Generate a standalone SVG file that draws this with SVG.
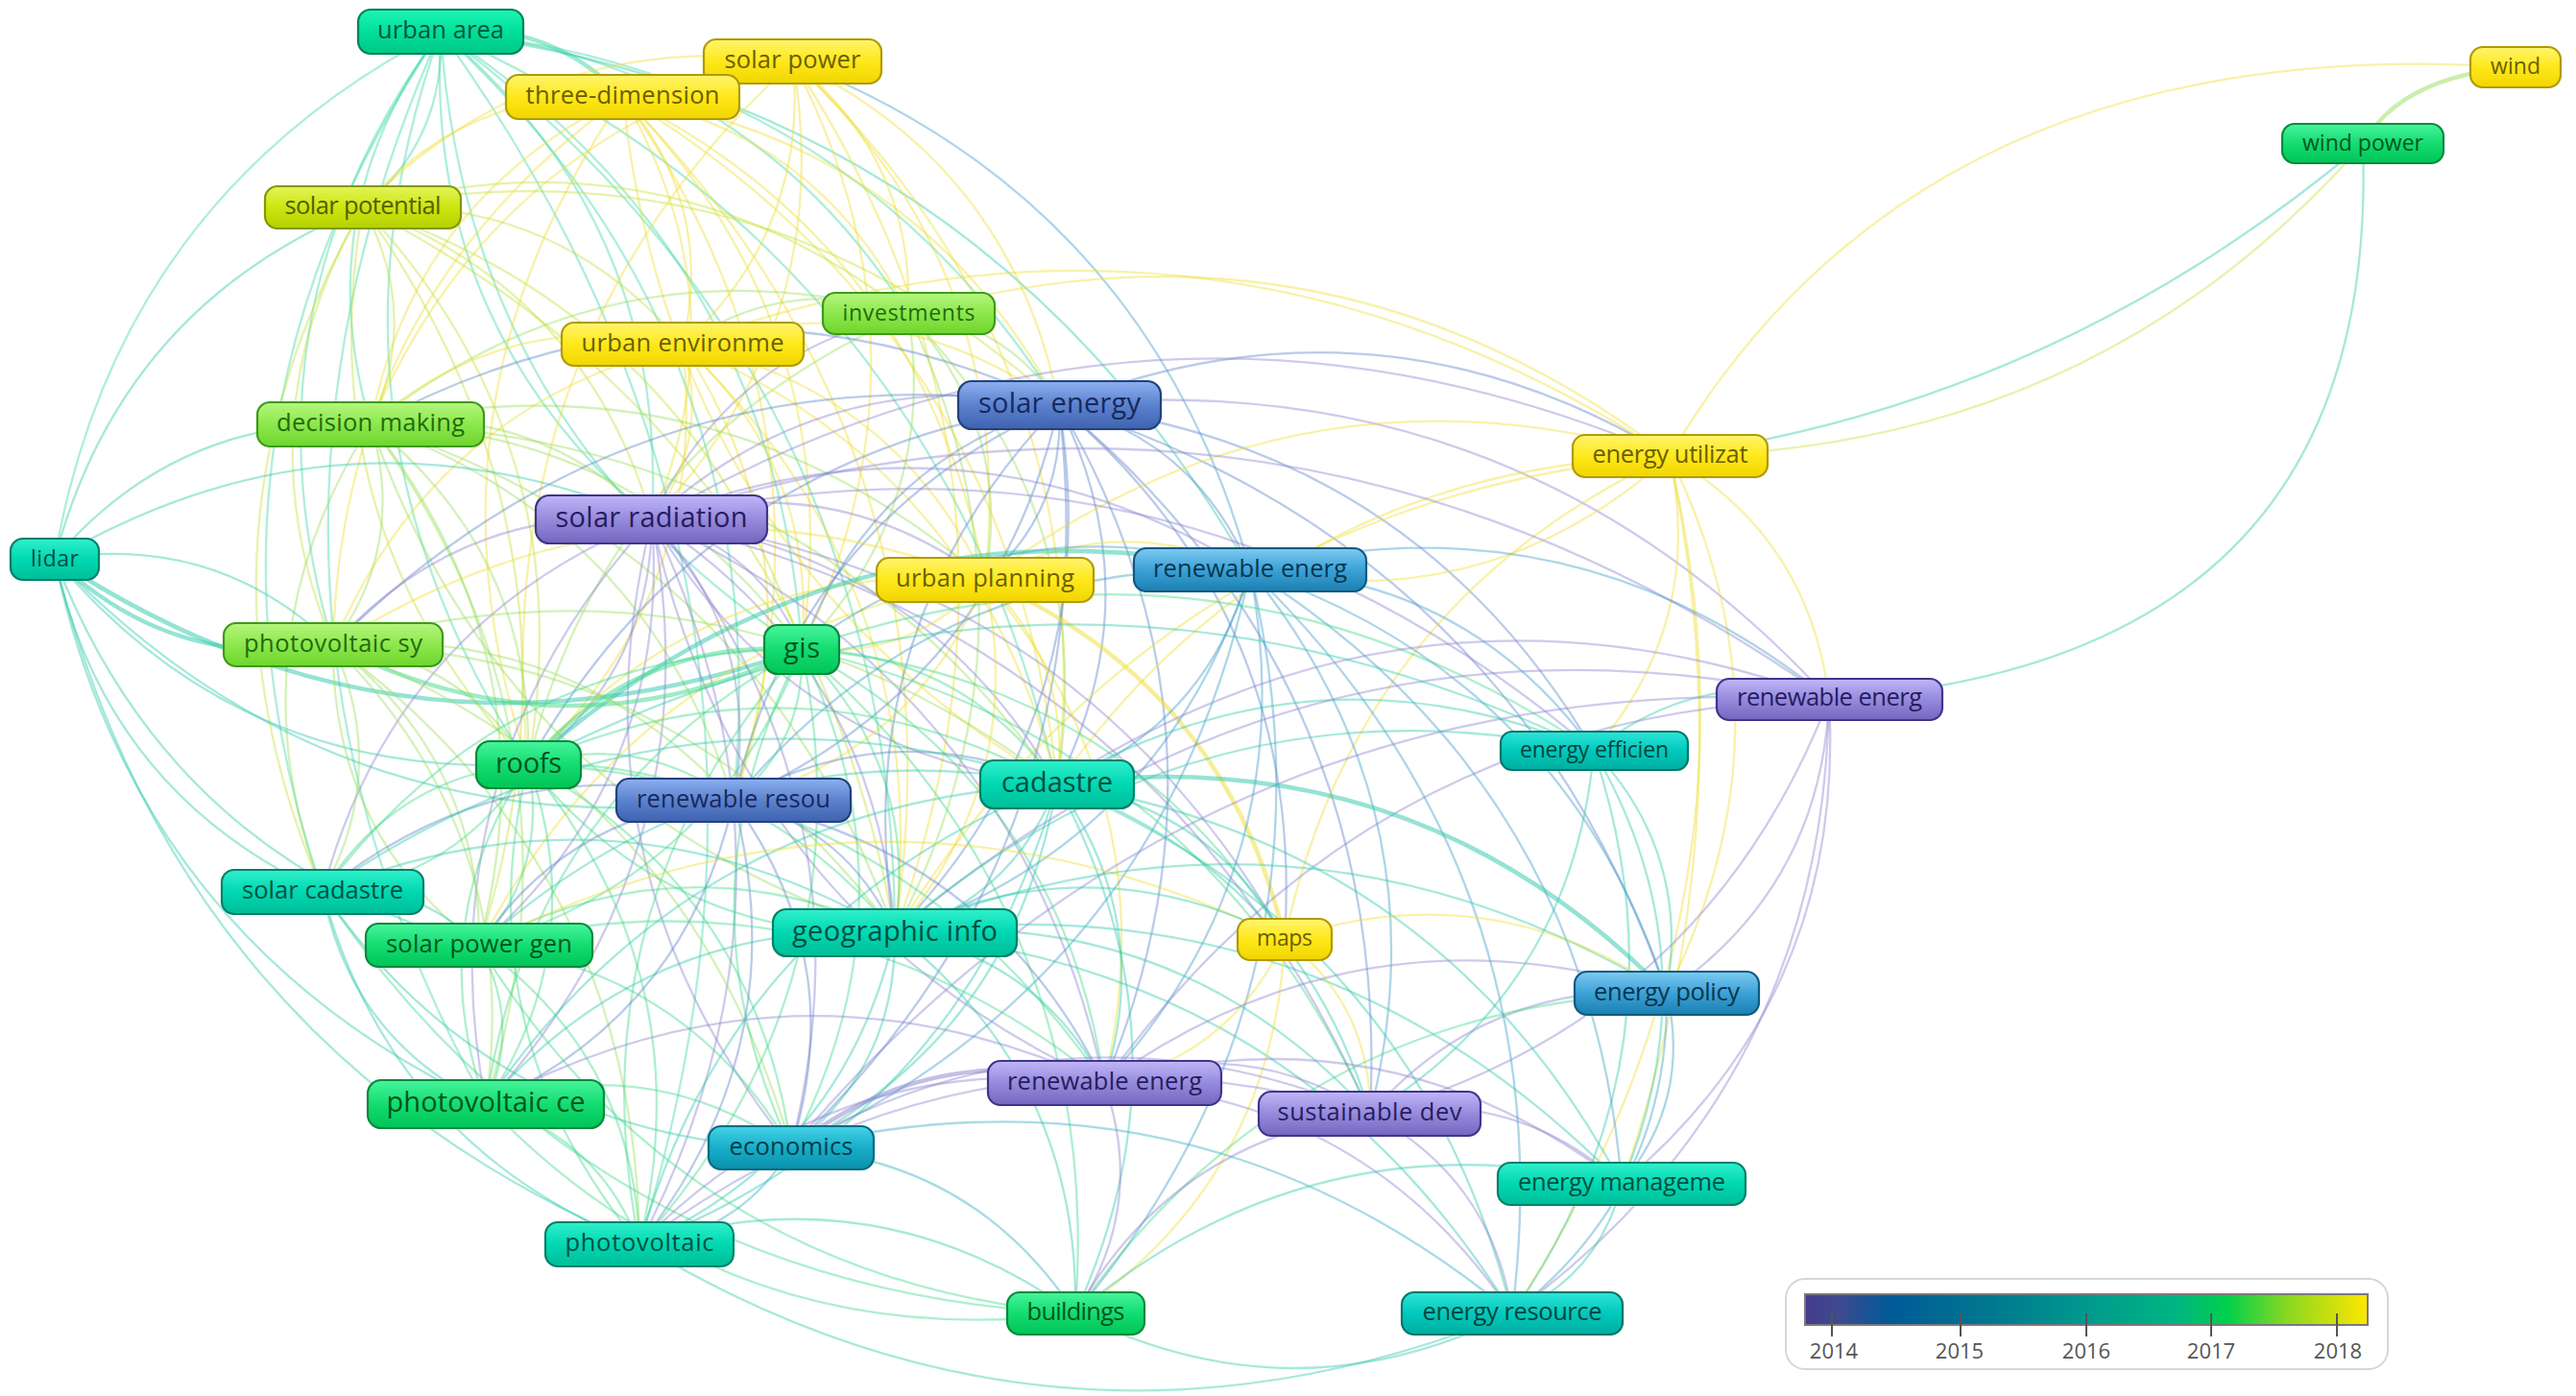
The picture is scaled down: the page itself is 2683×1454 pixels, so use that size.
<svg xmlns="http://www.w3.org/2000/svg" width="2683" height="1454" viewBox="0 0 2683 1454">
<defs>
<linearGradient id="gua" x1="0" y1="0" x2="0" y2="1"><stop offset="0" stop-color="#1ef5b4"/><stop offset=".5" stop-color="#00e09a"/><stop offset="1" stop-color="#00c786"/></linearGradient>
<linearGradient id="gyel" x1="0" y1="0" x2="0" y2="1"><stop offset="0" stop-color="#fff46e"/><stop offset=".5" stop-color="#ffe81a"/><stop offset="1" stop-color="#f0d500"/></linearGradient>
<linearGradient id="gyg" x1="0" y1="0" x2="0" y2="1"><stop offset="0" stop-color="#e2f45a"/><stop offset=".5" stop-color="#cbe610"/><stop offset="1" stop-color="#b4d000"/></linearGradient>
<linearGradient id="glg" x1="0" y1="0" x2="0" y2="1"><stop offset="0" stop-color="#b5f67e"/><stop offset=".5" stop-color="#8ce84c"/><stop offset="1" stop-color="#6fd42e"/></linearGradient>
<linearGradient id="ggrn" x1="0" y1="0" x2="0" y2="1"><stop offset="0" stop-color="#46f59c"/><stop offset=".5" stop-color="#14dc70"/><stop offset="1" stop-color="#00c458"/></linearGradient>
<linearGradient id="gtea" x1="0" y1="0" x2="0" y2="1"><stop offset="0" stop-color="#30f0cc"/><stop offset=".5" stop-color="#00d8b2"/><stop offset="1" stop-color="#00bd98"/></linearGradient>
<linearGradient id="gtea2" x1="0" y1="0" x2="0" y2="1"><stop offset="0" stop-color="#30e4d8"/><stop offset=".5" stop-color="#00c9bc"/><stop offset="1" stop-color="#00ad9e"/></linearGradient>
<linearGradient id="gblu" x1="0" y1="0" x2="0" y2="1"><stop offset="0" stop-color="#8cb0f0"/><stop offset=".5" stop-color="#5c82ce"/><stop offset="1" stop-color="#3e62b0"/></linearGradient>
<linearGradient id="glbl" x1="0" y1="0" x2="0" y2="1"><stop offset="0" stop-color="#7ecaf2"/><stop offset=".5" stop-color="#3ca2d6"/><stop offset="1" stop-color="#1a7eb0"/></linearGradient>
<linearGradient id="gcya" x1="0" y1="0" x2="0" y2="1"><stop offset="0" stop-color="#44d2e8"/><stop offset=".5" stop-color="#18aec8"/><stop offset="1" stop-color="#0a90ac"/></linearGradient>
<linearGradient id="gpur" x1="0" y1="0" x2="0" y2="1"><stop offset="0" stop-color="#c0b6f8"/><stop offset=".5" stop-color="#968adc"/><stop offset="1" stop-color="#7466c0"/></linearGradient>
<linearGradient id="gleg" x1="0" y1="0" x2="1" y2="0">
<stop offset="0" stop-color="#453c8c"/><stop offset=".06" stop-color="#3f4a90"/><stop offset=".15" stop-color="#005a98"/><stop offset=".33" stop-color="#00788f"/><stop offset=".5" stop-color="#00998e"/><stop offset=".66" stop-color="#00b582"/><stop offset=".75" stop-color="#00d04c"/><stop offset=".86" stop-color="#8cd820"/><stop offset="1" stop-color="#ffe600"/>
</linearGradient>
</defs>
<style>
#connectors path{fill:none;stroke-width:2.3;stroke-opacity:.42;stroke-linecap:round}
#connectors .w{stroke-width:4.5;stroke-opacity:.5}
#connectors .y{stroke:#eede30}#connectors .yg{stroke:#c4e03a}#connectors .lg{stroke:#98de5a}#connectors .g{stroke:#3fd98a}#connectors .t2{stroke:#3ed6a6}#connectors .t{stroke:#2cc7aa}#connectors .b{stroke:#5a82c8}#connectors .lb{stroke:#3e9cc8}#connectors .p{stroke:#8a80d0}#connectors .c{stroke:#2eaac4}
.nd rect{stroke-width:2.2}
.nd text{font-family:"Open Sans","Liberation Sans",sans-serif;text-anchor:middle;stroke:none}
.f29 text{font-size:29px}.f25 text{font-size:25.5px}.f23 text{font-size:23px}
.ua rect{fill:url(#gua);stroke:#00835a}.ua text{fill:#00573a}
.yel rect{fill:url(#gyel);stroke:#b09a00}.yel text{fill:#6b5e00}
.ygn rect{fill:url(#gyg);stroke:#849800}.ygn text{fill:#536000}
.lg2 rect{fill:url(#glg);stroke:#3d9a1c}.lg2 text{fill:#236b0c}
.grn rect{fill:url(#ggrn);stroke:#0a8a3c}.grn text{fill:#00561f}
.tea rect{fill:url(#gtea);stroke:#00806a}.tea text{fill:#004f42}
.tea2 rect{fill:url(#gtea2);stroke:#00766c}.tea2 text{fill:#00443e}
.blu rect{fill:url(#gblu);stroke:#24407e}.blu text{fill:#16295c}
.lbl rect{fill:url(#glbl);stroke:#0d5a80}.lbl text{fill:#073650}
.cya rect{fill:url(#gcya);stroke:#066c80}.cya text{fill:#033e4a}
.pur rect{fill:url(#gpur);stroke:#40348a}.pur text{fill:#261c60}
#legend text{font-family:"Open Sans","Liberation Sans",sans-serif;font-size:22px;fill:#555;text-anchor:middle}
</style>
<rect width="2683" height="1454" fill="#ffffff"/>
<g id="connectors">
<path class="t2" d="M459 33Q464 145 378 216"/>
<path class="t2" d="M386 442Q320 219 459 33"/>
<path class="t2" d="M459 33Q696 232 679 541"/>
<path class="t2" d="M459 33Q808 261 835 676"/>
<path class="t2" d="M550 796Q314 437 459 33"/>
<path class="t2" d="M336 929Q173 450 459 33"/>
<path class="t2" d="M506 1150Q203 603 459 33"/>
<path class="t2" d="M459 33Q878 613 666 1296"/>
<path class="t2" d="M459 33Q930 384 932 972"/>
<path class="t2" d="M459 33Q878 67 1103 422"/>
<path class="t2" d="M459 33Q976 265 1101 817"/>
<path class="t2" d="M459 33Q812 357 764 834"/>
<path class="t2" d="M57 582Q121 207 459 33"/>
<path class="t2 w" d="M459 33Q571 20 649 101"/>
<path class="t2" d="M459 33Q776 58 946 327"/>
<path class="t2" d="M347 672Q243 325 459 33"/>
<path class="t" d="M459 33Q1021 103 1302 594"/>
<path class="t2" d="M835 676Q486 449 459 33"/>
<path class="t2" d="M679 541Q442 342 459 33"/>
<path class="y" d="M378 216Q564 28 826 64"/>
<path class="y" d="M826 64Q842 240 711 359"/>
<path class="y" d="M826 64Q872 339 679 541"/>
<path class="y" d="M826 64Q984 368 835 676"/>
<path class="y" d="M826 64Q952 166 946 327"/>
<path class="y" d="M826 64Q1054 174 1103 422"/>
<path class="y" d="M826 64Q1061 284 1026 604"/>
<path class="y" d="M386 442Q512 143 826 64"/>
<path class="y" d="M550 796Q505 361 826 64"/>
<path class="y" d="M826 64Q1106 492 932 972"/>
<path class="y" d="M826 64Q1152 372 1101 817"/>
<path class="lb" d="M826 64Q1197 210 1302 594"/>
<path class="y" d="M378 216Q485 91 649 101"/>
<path class="y" d="M649 101Q745 215 711 359"/>
<path class="y" d="M386 442Q432 206 649 101"/>
<path class="y" d="M649 101Q774 314 679 541"/>
<path class="y" d="M649 101Q886 342 835 676"/>
<path class="y" d="M649 101Q956 148 1103 422"/>
<path class="y" d="M649 101Q963 258 1026 604"/>
<path class="y" d="M649 101Q854 140 946 327"/>
<path class="y" d="M550 796Q426 424 649 101"/>
<path class="y" d="M347 672Q355 311 649 101"/>
<path class="y" d="M649 101Q1008 466 932 972"/>
<path class="y" d="M649 101Q1054 346 1101 817"/>
<path class="y" d="M649 101Q890 439 764 834"/>
<path class="y" d="M1101 817Q696 572 649 101"/>
<path class="yg" d="M378 216Q439 327 386 442"/>
<path class="yg" d="M347 672Q249 436 378 216"/>
<path class="yg" d="M378 216Q610 303 679 541"/>
<path class="yg" d="M378 216Q722 332 835 676"/>
<path class="yg" d="M378 216Q609 463 550 796"/>
<path class="yg" d="M550 796Q319 549 378 216"/>
<path class="yg" d="M336 929Q179 562 378 216"/>
<path class="yg" d="M378 216Q580 204 711 359"/>
<path class="yg" d="M378 216Q690 130 946 327"/>
<path class="yg" d="M378 216Q792 138 1103 422"/>
<path class="t" d="M57 582Q126 319 378 216"/>
<path class="yg" d="M378 216Q844 456 932 972"/>
<path class="yg" d="M378 216Q631 570 499 985"/>
<path class="lg" d="M711 359Q820 284 946 327"/>
<path class="lg" d="M946 327Q1048 335 1103 422"/>
<path class="lg" d="M946 327Q978 529 835 676"/>
<path class="lg" d="M946 327Q1055 446 1026 604"/>
<path class="lg" d="M946 327Q1146 533 1101 817"/>
<path class="p" d="M679 541Q759 367 946 327"/>
<path class="lg" d="M386 442Q637 245 946 327"/>
<path class="y" d="M946 327Q1380 203 1739 475"/>
<path class="lg" d="M550 796Q631 463 946 327"/>
<path class="lg" d="M946 327Q1100 653 932 972"/>
<path class="y" d="M386 442Q528 319 711 359"/>
<path class="y" d="M711 359Q741 458 679 541"/>
<path class="y" d="M711 359Q852 487 835 676"/>
<path class="y" d="M711 359Q930 403 1026 604"/>
<path class="y" d="M711 359Q923 293 1103 422"/>
<path class="y" d="M711 359Q740 618 550 796"/>
<path class="y" d="M347 672Q451 425 711 359"/>
<path class="y" d="M711 359Q975 610 932 972"/>
<path class="y" d="M711 359Q856 583 764 834"/>
<path class="y" d="M711 359Q1021 491 1101 817"/>
<path class="y" d="M711 359Q1254 160 1739 475"/>
<path class="t" d="M57 582Q187 430 386 442"/>
<path class="lg" d="M386 442Q424 567 347 672"/>
<path class="lg" d="M386 442Q557 418 679 541"/>
<path class="lg" d="M386 442Q669 447 835 676"/>
<path class="lg" d="M386 442Q557 578 550 796"/>
<path class="lg" d="M336 929Q239 673 386 442"/>
<path class="lg" d="M386 442Q578 685 499 985"/>
<path class="b" d="M386 442Q740 253 1103 422"/>
<path class="lg" d="M386 442Q792 571 932 972"/>
<path class="lg" d="M932 972Q527 844 386 442"/>
<path class="lg" d="M386 442Q673 544 764 834"/>
<path class="lg" d="M386 442Q837 451 1101 817"/>
<path class="lg" d="M386 442Q623 766 506 1150"/>
<path class="lg" d="M386 442Q747 363 1026 604"/>
<path class="p" d="M679 541Q861 376 1103 422"/>
<path class="b" d="M835 676Q906 482 1103 422"/>
<path class="b" d="M1103 422Q1110 532 1026 604"/>
<path class="b" d="M1103 422Q1246 458 1302 594"/>
<path class="b" d="M1103 422Q1037 713 764 834"/>
<path class="b" d="M764 834Q831 543 1103 422"/>
<path class="b" d="M1103 422Q1201 620 1101 817"/>
<path class="b" d="M1103 422Q1155 740 932 972"/>
<path class="b" d="M932 972Q880 654 1103 422"/>
<path class="b" d="M1103 422Q1434 290 1739 475"/>
<path class="b" d="M1103 422Q1472 463 1660 782"/>
<path class="p" d="M1103 422Q1581 375 1905 728"/>
<path class="b" d="M1103 422Q1303 763 1150 1128"/>
<path class="b" d="M1103 422Q1157 879 824 1196"/>
<path class="b" d="M550 796Q733 471 1103 422"/>
<path class="b" d="M347 672Q663 358 1103 422"/>
<path class="b" d="M1103 422Q1450 710 1427 1160"/>
<path class="b" d="M1103 422Q1360 641 1338 978"/>
<path class="b" d="M1103 422Q1573 570 1736 1034"/>
<path class="y" d="M1739 475Q2000 30 2620 70"/>
<path class="t" d="M1739 475Q2140 420 2461 150"/>
<path class="yg" d="M1739 475Q2180 470 2461 150"/>
<path class="t" d="M2461 150Q2480 690 1905 728"/>
<path class="lg w" d="M2461 150Q2500 80 2620 70"/>
<path class="y" d="M1739 475Q1550 644 1302 594"/>
<path class="y" d="M1101 817Q1334 487 1739 475"/>
<path class="y" d="M1739 475Q1776 648 1660 782"/>
<path class="y" d="M1739 475Q1877 755 1736 1034"/>
<path class="y" d="M1739 475Q1820 860 1689 1233"/>
<path class="y" d="M932 972Q1211 522 1739 475"/>
<path class="y" d="M1338 978Q1413 626 1739 475"/>
<path class="y" d="M1026 604Q1350 361 1739 475"/>
<path class="y" d="M1739 475Q1885 560 1905 728"/>
<path class="y" d="M1739 475Q1850 950 1575 1368"/>
<path class="p" d="M679 541Q1193 243 1739 475"/>
<path class="t" d="M57 582Q358 406 679 541"/>
<path class="t w" d="M347 672Q180 700 57 582"/>
<path class="t" d="M57 582Q225 555 347 672"/>
<path class="t w" d="M835 676Q423 824 57 582"/>
<path class="t" d="M550 796Q250 812 57 582"/>
<path class="t" d="M336 929Q110 825 57 582"/>
<path class="t" d="M506 1150Q140 978 57 582"/>
<path class="t" d="M666 1296Q183 1091 57 582"/>
<path class="t" d="M499 985Q177 894 57 582"/>
<path class="t" d="M764 834Q348 885 57 582"/>
<path class="p" d="M347 672Q480 524 679 541"/>
<path class="p" d="M679 541Q791 570 835 676"/>
<path class="p" d="M679 541Q678 701 550 796"/>
<path class="p" d="M679 541Q795 666 764 834"/>
<path class="p" d="M679 541Q959 574 1101 817"/>
<path class="p" d="M1101 817Q821 785 679 541"/>
<path class="p" d="M679 541Q913 693 932 972"/>
<path class="p" d="M679 541Q868 486 1026 604"/>
<path class="p" d="M679 541Q1004 412 1302 594"/>
<path class="p" d="M336 929Q411 649 679 541"/>
<path class="p" d="M679 541Q700 808 499 985"/>
<path class="p" d="M679 541Q745 889 506 1150"/>
<path class="p" d="M506 1150Q440 802 679 541"/>
<path class="p" d="M679 541Q1061 717 1150 1128"/>
<path class="p" d="M1150 1128Q768 952 679 541"/>
<path class="p" d="M679 541Q1208 664 1427 1160"/>
<path class="p" d="M679 541Q915 832 824 1196"/>
<path class="p" d="M824 1196Q588 905 679 541"/>
<path class="p" d="M679 541Q861 922 666 1296"/>
<path class="p" d="M679 541Q1230 416 1660 782"/>
<path class="p" d="M679 541Q1339 328 1905 728"/>
<path class="p" d="M679 541Q1118 595 1338 978"/>
<path class="y" d="M1026 604Q949 688 835 676"/>
<path class="y" d="M1026 604Q1117 692 1101 817"/>
<path class="y" d="M1026 604Q1071 812 932 972"/>
<path class="y w" d="M1026 604Q1276 713 1338 978"/>
<path class="y" d="M1026 604Q953 785 764 834"/>
<path class="y" d="M1026 604Q1162 530 1302 594"/>
<path class="y" d="M550 796Q740 581 1026 604"/>
<path class="y" d="M1026 604Q1219 835 1150 1128"/>
<path class="y" d="M499 985Q667 663 1026 604"/>
<path class="y" d="M347 672Q670 468 1026 604"/>
<path class="lb" d="M835 676Q1048 518 1302 594"/>
<path class="lb" d="M1302 594Q1257 756 1101 817"/>
<path class="lb" d="M1302 594Q1528 599 1660 782"/>
<path class="lb" d="M1302 594Q1212 876 932 972"/>
<path class="lb" d="M1302 594Q1629 706 1736 1034"/>
<path class="lb" d="M1302 594Q1506 846 1427 1160"/>
<path class="lb" d="M1302 594Q1360 899 1150 1128"/>
<path class="lb" d="M1302 594Q1655 817 1689 1233"/>
<path class="lb" d="M764 834Q973 580 1302 594"/>
<path class="lb" d="M1302 594Q1405 1027 1120 1368"/>
<path class="lb" d="M1302 594Q1632 913 1575 1368"/>
<path class="lb" d="M1302 594Q1214 1015 824 1196"/>
<path class="t w" d="M550 796Q876 507 1302 594"/>
<path class="lb" d="M1302 594Q1637 510 1905 728"/>
<path class="lg" d="M347 672Q480 683 550 796"/>
<path class="lg" d="M347 672Q406 803 336 929"/>
<path class="lg" d="M347 672Q501 791 499 985"/>
<path class="lg" d="M499 985Q345 867 347 672"/>
<path class="g w" d="M835 676Q590 796 347 672"/>
<path class="lg" d="M347 672Q596 649 764 834"/>
<path class="lg" d="M347 672Q546 871 506 1150"/>
<path class="lg" d="M347 672Q663 904 666 1296"/>
<path class="lg" d="M347 672Q715 676 932 972"/>
<path class="lg" d="M347 672Q760 556 1101 817"/>
<path class="lg" d="M347 672Q717 815 824 1196"/>
<path class="g w" d="M550 796Q663 665 835 676"/>
<path class="g" d="M835 676Q839 773 764 834"/>
<path class="g" d="M835 676Q1003 680 1101 817"/>
<path class="g" d="M336 929Q522 678 835 676"/>
<path class="g" d="M835 676Q744 915 499 985"/>
<path class="g" d="M835 676Q958 800 932 972"/>
<path class="g" d="M506 1150Q552 831 835 676"/>
<path class="g" d="M835 676Q960 939 824 1196"/>
<path class="g" d="M824 1196Q700 933 835 676"/>
<path class="g" d="M835 676Q906 1028 666 1296"/>
<path class="g" d="M666 1296Q596 944 835 676"/>
<path class="g" d="M835 676Q1106 823 1150 1128"/>
<path class="g" d="M835 676Q1162 701 1338 978"/>
<path class="g" d="M835 676Q1252 770 1427 1160"/>
<path class="g" d="M835 676Q1274 523 1660 782"/>
<path class="g" d="M835 676Q1151 951 1120 1368"/>
<path class="t" d="M1660 782Q1769 694 1905 728"/>
<path class="p" d="M1905 728Q1897 923 1736 1034"/>
<path class="p" d="M1905 728Q1923 1035 1689 1233"/>
<path class="p" d="M1150 1128Q1428 739 1905 728"/>
<path class="p" d="M1905 728Q1774 1064 1427 1160"/>
<path class="p" d="M1905 728Q1900 1131 1575 1368"/>
<path class="p" d="M1101 817Q1481 572 1905 728"/>
<path class="p" d="M932 972Q1358 607 1905 728"/>
<path class="p" d="M824 1196Q1248 692 1905 728"/>
<path class="t" d="M1101 817Q1372 660 1660 782"/>
<path class="t" d="M1660 782Q1761 889 1736 1034"/>
<path class="t" d="M1660 782Q1787 1000 1689 1233"/>
<path class="t" d="M1660 782Q1764 1096 1575 1368"/>
<path class="t" d="M932 972Q1249 695 1660 782"/>
<path class="t" d="M1660 782Q1638 1029 1427 1160"/>
<path class="t" d="M550 796Q1102 512 1660 782"/>
<path class="g" d="M550 796Q476 916 336 929"/>
<path class="g" d="M336 929Q410 809 550 796"/>
<path class="g" d="M550 796Q572 903 499 985"/>
<path class="g" d="M550 796Q667 762 764 834"/>
<path class="g" d="M550 796Q785 789 932 972"/>
<path class="g" d="M932 972Q697 980 550 796"/>
<path class="g" d="M550 796Q617 984 506 1150"/>
<path class="g" d="M506 1150Q439 962 550 796"/>
<path class="g" d="M550 796Q733 1017 666 1296"/>
<path class="g" d="M666 1296Q483 1075 550 796"/>
<path class="g" d="M550 796Q831 669 1101 817"/>
<path class="g" d="M550 796Q787 928 824 1196"/>
<path class="g" d="M550 796Q933 812 1150 1128"/>
<path class="b" d="M764 834Q928 741 1101 817"/>
<path class="b" d="M764 834Q883 861 932 972"/>
<path class="b" d="M764 834Q714 1057 506 1150"/>
<path class="b" d="M764 834Q885 1000 824 1196"/>
<path class="b" d="M499 985Q594 843 764 834"/>
<path class="b" d="M336 929Q526 775 764 834"/>
<path class="b" d="M764 834Q1031 885 1150 1128"/>
<path class="b" d="M764 834Q831 1090 666 1296"/>
<path class="t" d="M1101 817Q1055 937 932 972"/>
<path class="t" d="M1101 817Q1260 838 1338 978"/>
<path class="t" d="M1101 817Q1203 960 1150 1128"/>
<path class="t" d="M1101 817Q1350 907 1427 1160"/>
<path class="t" d="M1101 817Q1057 1076 824 1196"/>
<path class="t" d="M1101 817Q1003 1165 666 1296"/>
<path class="t" d="M666 1296Q764 948 1101 817"/>
<path class="t" d="M1101 817Q1499 878 1689 1233"/>
<path class="t w" d="M1101 817Q1473 767 1736 1034"/>
<path class="t" d="M336 929Q691 682 1101 817"/>
<path class="t" d="M499 985Q758 751 1101 817"/>
<path class="t" d="M506 1150Q720 835 1101 817"/>
<path class="t" d="M1101 817Q1248 1088 1120 1368"/>
<path class="t" d="M1101 817Q1476 974 1575 1368"/>
<path class="t" d="M336 929Q432 916 499 985"/>
<path class="t" d="M506 1150Q366 1082 336 929"/>
<path class="t" d="M666 1296Q409 1195 336 929"/>
<path class="t" d="M336 929Q645 802 932 972"/>
<path class="t" d="M824 1196Q513 1185 336 929"/>
<path class="g" d="M1120 1368Q618 1345 336 929"/>
<path class="g" d="M499 985Q712 870 932 972"/>
<path class="g" d="M499 985Q544 1066 506 1150"/>
<path class="g" d="M499 985Q660 1099 666 1296"/>
<path class="g" d="M499 985Q714 1009 824 1196"/>
<path class="g" d="M499 985Q860 894 1150 1128"/>
<path class="g" d="M1120 1368Q714 1332 499 985"/>
<path class="y" d="M499 985Q917 772 1338 978"/>
<path class="t" d="M932 972Q1137 874 1338 978"/>
<path class="t" d="M932 972Q1080 996 1150 1128"/>
<path class="t" d="M932 972Q1227 942 1427 1160"/>
<path class="t" d="M932 972Q934 1111 824 1196"/>
<path class="t" d="M506 1150Q675 955 932 972"/>
<path class="t" d="M932 972Q880 1201 666 1296"/>
<path class="t" d="M932 972Q1125 1123 1120 1368"/>
<path class="t" d="M932 972Q1350 802 1736 1034"/>
<path class="t" d="M932 972Q1376 913 1689 1233"/>
<path class="t" d="M932 972Q1353 1009 1575 1368"/>
<path class="y" d="M1338 978Q1428 1047 1427 1160"/>
<path class="y" d="M1338 978Q1282 1100 1150 1128"/>
<path class="y" d="M1338 978Q1551 907 1736 1034"/>
<path class="y" d="M1338 978Q1327 1228 1120 1368"/>
<path class="p" d="M1427 1160Q1550 1020 1736 1034"/>
<path class="lb" d="M1736 1034Q1762 1145 1689 1233"/>
<path class="lb" d="M1736 1034Q1739 1241 1575 1368"/>
<path class="p" d="M1150 1128Q1420 935 1736 1034"/>
<path class="g" d="M1120 1368Q1345 1047 1736 1034"/>
<path class="p" d="M1150 1128Q1297 1075 1427 1160"/>
<path class="p w" d="M824 1196Q970 1081 1150 1128"/>
<path class="p" d="M1150 1128Q1195 1256 1120 1368"/>
<path class="p" d="M1150 1128Q1446 1046 1689 1233"/>
<path class="p" d="M1150 1128Q1423 1142 1575 1368"/>
<path class="p" d="M666 1296Q866 1091 1150 1128"/>
<path class="p" d="M506 1150Q823 978 1150 1128"/>
<path class="p" d="M1427 1160Q1576 1131 1689 1233"/>
<path class="p" d="M1427 1160Q1553 1227 1575 1368"/>
<path class="p" d="M1120 1368Q1222 1187 1427 1160"/>
<path class="p" d="M824 1196Q1117 1027 1427 1160"/>
<path class="p" d="M666 1296Q1013 1038 1427 1160"/>
<path class="g" d="M506 1150Q623 1183 666 1296"/>
<path class="g" d="M506 1150Q677 1094 824 1196"/>
<path class="g" d="M1120 1368Q759 1413 506 1150"/>
<path class="c" d="M824 1196Q770 1286 666 1296"/>
<path class="c" d="M824 1196Q1015 1208 1120 1368"/>
<path class="c" d="M824 1196Q1243 1094 1575 1368"/>
<path class="t" d="M1689 1233Q1666 1329 1575 1368"/>
<path class="t" d="M1120 1368Q1371 1158 1689 1233"/>
<path class="t" d="M666 1296Q911 1219 1120 1368"/>
<path class="t" d="M1575 1368Q1102 1559 666 1296"/>
<path class="t" d="M1575 1368Q1348 1482 1120 1368"/>
</g>
<g id="urban-area" class="nd ua f25"><rect x="373" y="10" width="172" height="46" rx="13"/><text x="459" y="40" textLength="132">urban area</text></g>
<g id="solar-power" class="nd yel f25"><rect x="733" y="41" width="185" height="46" rx="13"/><text x="825.5" y="71" textLength="142">solar power</text></g>
<g id="three-dimension" class="nd yel f25"><rect x="527" y="78" width="243" height="46" rx="13"/><text x="648.5" y="108" textLength="202">three-dimension</text></g>
<g id="solar-potential" class="nd ygn f25"><rect x="276" y="194" width="204" height="44" rx="13"/><text x="378" y="223" textLength="163">solar potential</text></g>
<g id="investments" class="nd lg2 f23"><rect x="857" y="305" width="179" height="43" rx="13"/><text x="946.5" y="334" textLength="138">investments</text></g>
<g id="urban-environme" class="nd yel f25"><rect x="585" y="336" width="252" height="45" rx="13"/><text x="711" y="366" textLength="211">urban environme</text></g>
<g id="decision-making" class="nd lg2 f25"><rect x="268" y="419" width="236" height="46" rx="13"/><text x="386" y="449" textLength="196">decision making</text></g>
<g id="solar-energy" class="nd blu f29"><rect x="998" y="397" width="211" height="50" rx="14"/><text x="1103.5" y="430" textLength="169">solar energy</text></g>
<g id="energy-utilizat" class="nd yel f25"><rect x="1638" y="453" width="203" height="44" rx="13"/><text x="1739.5" y="482" textLength="162">energy utilizat</text></g>
<g id="wind" class="nd yel f23"><rect x="2573" y="49" width="94" height="42" rx="13"/><text x="2620" y="77" textLength="52">wind</text></g>
<g id="wind-power" class="nd grn f23"><rect x="2377" y="129" width="168" height="41" rx="13"/><text x="2461" y="157" textLength="126">wind power</text></g>
<g id="lidar" class="nd tea f23"><rect x="11" y="561" width="92" height="43" rx="13"/><text x="57" y="590" textLength="50">lidar</text></g>
<g id="solar-radiation" class="nd pur f29"><rect x="558" y="516" width="241" height="50" rx="14"/><text x="678.5" y="549" textLength="200">solar radiation</text></g>
<g id="urban-planning" class="nd yel f25"><rect x="913" y="581" width="226" height="46" rx="13"/><text x="1026" y="611" textLength="186">urban planning</text></g>
<g id="renewable-energ-1" class="nd lbl f25"><rect x="1181" y="571" width="242" height="45" rx="13"/><text x="1302" y="601" textLength="202">renewable energ</text></g>
<g id="photovoltaic-sy" class="nd lg2 f25"><rect x="233" y="649" width="228" height="45" rx="13"/><text x="347" y="679" textLength="186">photovoltaic sy</text></g>
<g id="gis" class="nd grn f29"><rect x="796" y="651" width="78" height="51" rx="14"/><text x="835" y="685" textLength="38">gis</text></g>
<g id="renewable-energ-2" class="nd pur f25"><rect x="1788" y="707" width="235" height="43" rx="13"/><text x="1905.5" y="735" textLength="193">renewable energ</text></g>
<g id="energy-efficien" class="nd tea2 f23"><rect x="1563" y="762" width="195" height="40" rx="12"/><text x="1660.5" y="789" textLength="155">energy efficien</text></g>
<g id="roofs" class="nd grn f29"><rect x="496" y="772" width="109" height="49" rx="14"/><text x="550.5" y="805" textLength="69">roofs</text></g>
<g id="renewable-resou" class="nd blu f25"><rect x="642" y="811" width="244" height="45" rx="13"/><text x="764" y="841" textLength="202">renewable resou</text></g>
<g id="cadastre" class="nd tea f29"><rect x="1021" y="792" width="160" height="50" rx="14"/><text x="1101" y="825" textLength="116">cadastre</text></g>
<g id="solar-cadastre" class="nd tea f25"><rect x="231" y="906" width="210" height="46" rx="13"/><text x="336" y="936" textLength="168">solar cadastre</text></g>
<g id="solar-power-gen" class="nd grn f25"><rect x="381" y="962" width="236" height="45" rx="13"/><text x="499" y="992" textLength="194">solar power gen</text></g>
<g id="geographic-info" class="nd tea f29"><rect x="805" y="947" width="254" height="49" rx="14"/><text x="932" y="980" textLength="214">geographic info</text></g>
<g id="maps" class="nd yel f23"><rect x="1289" y="957" width="98" height="43" rx="13"/><text x="1338" y="985" textLength="58">maps</text></g>
<g id="energy-policy" class="nd lbl f25"><rect x="1640" y="1012" width="192" height="45" rx="13"/><text x="1736" y="1042" textLength="152">energy policy</text></g>
<g id="renewable-energ-3" class="nd pur f25"><rect x="1029" y="1105" width="243" height="46" rx="13"/><text x="1150.5" y="1135" textLength="203">renewable energ</text></g>
<g id="sustainable-dev" class="nd pur f25"><rect x="1311" y="1137" width="231" height="46" rx="13"/><text x="1426.5" y="1167" textLength="192">sustainable dev</text></g>
<g id="photovoltaic-ce" class="nd grn f29"><rect x="383" y="1125" width="246" height="50" rx="14"/><text x="506" y="1158" textLength="207">photovoltaic ce</text></g>
<g id="economics" class="nd cya f25"><rect x="738" y="1173" width="172" height="45" rx="13"/><text x="824" y="1203" textLength="129">economics</text></g>
<g id="energy-manageme" class="nd tea f25"><rect x="1560" y="1211" width="258" height="44" rx="13"/><text x="1689" y="1240" textLength="216">energy manageme</text></g>
<g id="photovoltaic" class="nd tea f25"><rect x="568" y="1273" width="196" height="46" rx="13"/><text x="666" y="1303" textLength="155">photovoltaic</text></g>
<g id="buildings" class="nd grn f25"><rect x="1049" y="1346" width="143" height="44" rx="13"/><text x="1120.5" y="1375" textLength="102">buildings</text></g>
<g id="energy-resource" class="nd tea2 f25"><rect x="1460" y="1346" width="230" height="44" rx="13"/><text x="1575" y="1375" textLength="187">energy resource</text></g>
<g id="legend">
<rect x="1860" y="1332" width="627" height="94" rx="20" fill="#ffffff" stroke="#d6d6d6" stroke-width="2"/>
<rect x="1880" y="1348" width="586" height="32" fill="url(#gleg)" stroke="#7a7a7a" stroke-width="2"/>
<g stroke="#555" stroke-width="2"><line x1="1908" y1="1368" x2="1908" y2="1392"/><line x1="2042" y1="1368" x2="2042" y2="1392"/><line x1="2173" y1="1368" x2="2173" y2="1392"/><line x1="2303" y1="1368" x2="2303" y2="1392"/><line x1="2434" y1="1368" x2="2434" y2="1392"/></g>
<text x="1910" y="1415">2014</text><text x="2041" y="1415">2015</text><text x="2173" y="1415">2016</text><text x="2303" y="1415">2017</text><text x="2435" y="1415">2018</text>
</g>
</svg>
